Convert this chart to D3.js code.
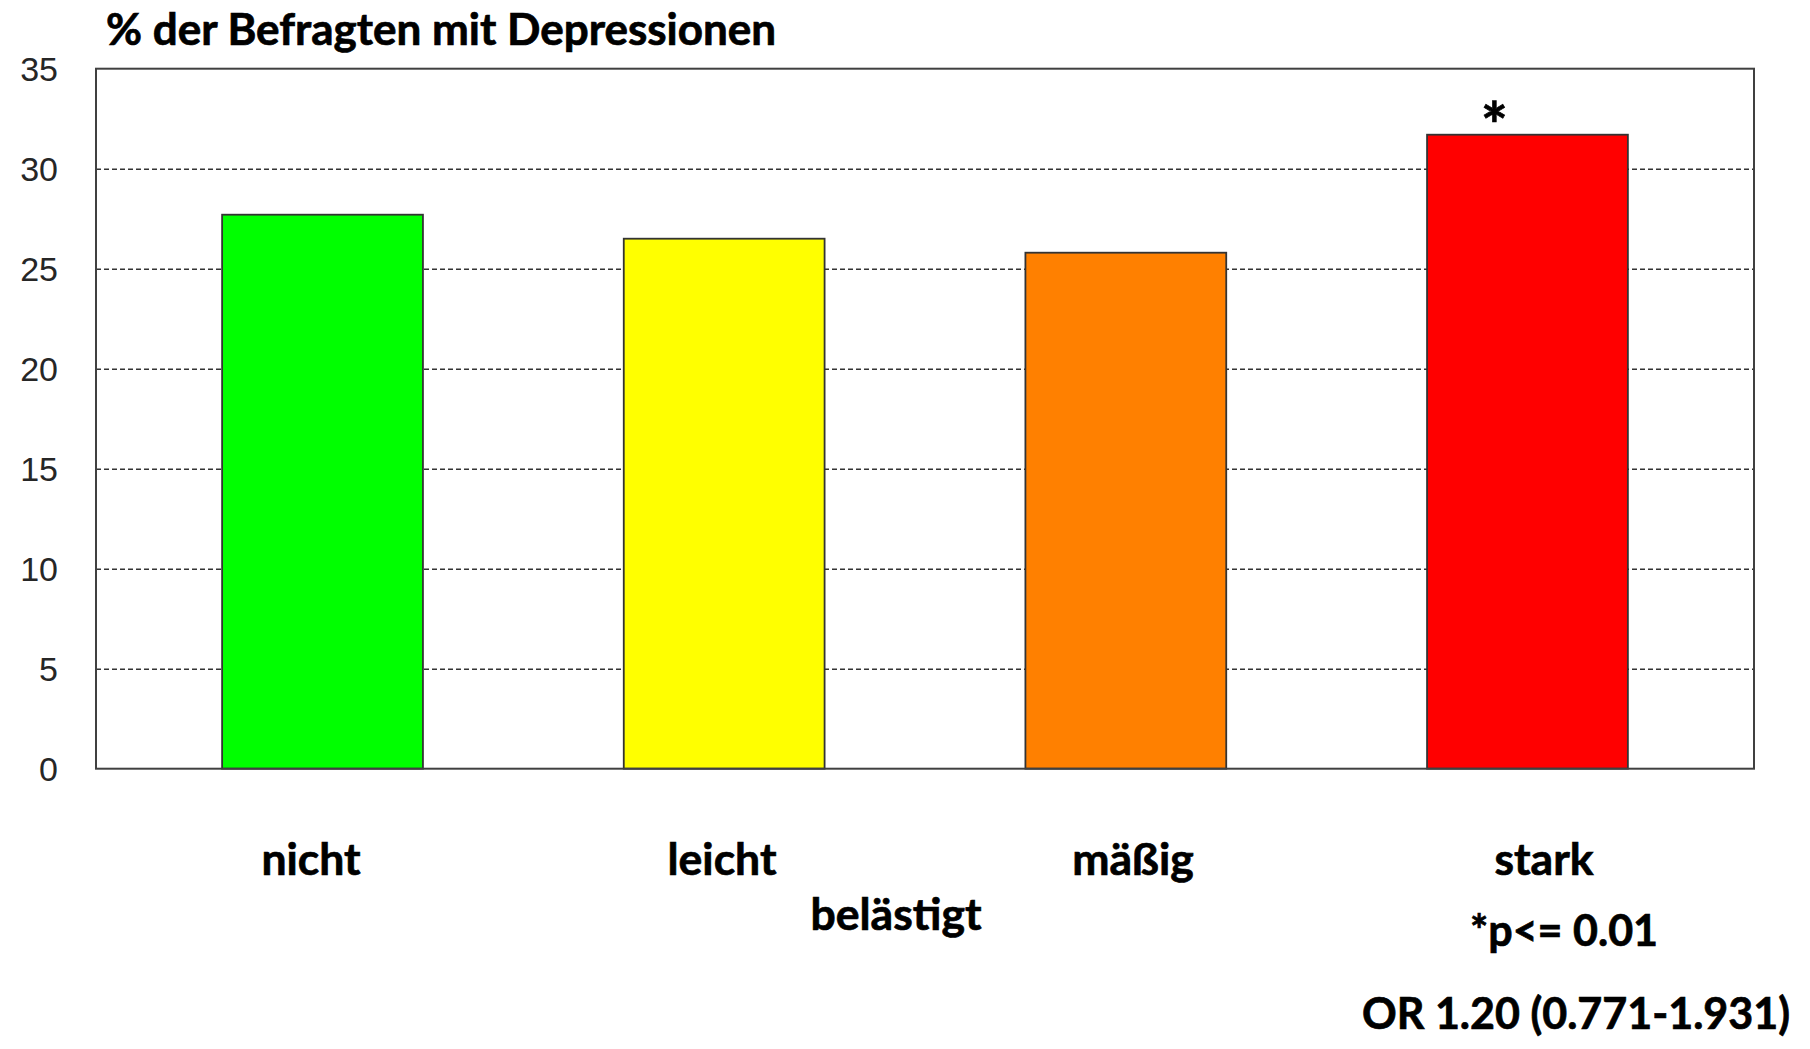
<!DOCTYPE html>
<html>
<head>
<meta charset="utf-8">
<script src="https://cdn.jsdelivr.net/npm/d3@7"></script>
<style>
    body { margin: 0; background: #fff; }
    .lbl { font-family: Lato, "Open Sans", sans-serif; font-weight: bold; fill: #000; stroke: #000; stroke-width: 0.7px; }
    .tick text { font-family: "Liberation Sans", Arial, sans-serif; font-size: 34px; fill: #262626; }
</style>
</head>
<body>
<svg id="chart"></svg>
<script>
const categories = ["nicht", "leicht", "mäßig", "stark"];
const values = [27.7, 26.5, 25.8, 31.7];
const colors = ["#00ff00", "#ffff00", "#ff8000", "#ff0000"];
const yTicks = [0, 5, 10, 15, 20, 25, 30, 35];

const width = 1810;
const height = 1049;
const frame = { left: 96, right: 1754, top: 68.7, bottom: 768.7 };

const svg = d3.select("#chart")
    .attr("width", width)
    .attr("height", height);

const x = d3.scaleBand()
    .domain(categories)
    .range([frame.left, frame.right])
    .paddingInner(0.5)
    .paddingOuter(0.314);

// category captions sit on their own, slightly wider spacing
const xLabel = d3.scalePoint()
    .domain(categories)
    .range([311, 1544]);

const y = d3.scaleLinear()
    .domain([0, 35])
    .range([frame.bottom, frame.top]);

// dashed grid lines
svg.append("g")
    .attr("transform", `translate(${frame.left},0)`)
    .call(d3.axisLeft(y).tickValues(yTicks.slice(1, -1)).tickSize(-(frame.right - frame.left)).tickFormat(""))
    .call(g => g.select(".domain").remove())
    .call(g => g.selectAll("line")
        .attr("stroke", "#333")
        .attr("stroke-width", 1.5)
        .attr("stroke-dasharray", "5,3"));

// y labels
svg.append("g")
    .attr("transform", `translate(${frame.left - 38},0)`)
    .call(d3.axisLeft(y).tickValues(yTicks).tickSize(0).tickPadding(0))
    .call(g => g.select(".domain").remove())
    .call(g => g.selectAll("text").attr("dy", "0.36em"));

svg.selectAll(".bar")
    .data(values)
    .enter()
    .append("rect")
    .attr("class", "bar")
    .attr("x", (d, i) => x(categories[i]))
    .attr("y", d => y(d))
    .attr("width", x.bandwidth())
    .attr("height", d => y(0) - y(d))
    .attr("fill", (d, i) => colors[i])
    .attr("stroke", "#333")
    .attr("stroke-width", 1.8);

// frame
svg.append("rect")
    .attr("x", frame.left)
    .attr("y", frame.top)
    .attr("width", frame.right - frame.left)
    .attr("height", frame.bottom - frame.top)
    .attr("fill", "none")
    .attr("stroke", "#404040")
    .attr("stroke-width", 2);

svg.append("text")
    .attr("class", "lbl")
    .attr("x", 106)
    .attr("y", 45)
    .style("font-size", "44px")
    .text("% der Befragten mit Depressionen");

svg.selectAll(".cat")
    .data(categories)
    .enter()
    .append("text")
    .attr("class", "lbl cat")
    .attr("x", d => xLabel(d))
    .attr("y", 875)
    .attr("text-anchor", "middle")
    .style("font-size", "44.5px")
    .text(d => d);

svg.append("text")
    .attr("class", "lbl")
    .attr("x", 896)
    .attr("y", 930)
    .attr("text-anchor", "middle")
    .style("font-size", "44.5px")
    .text("belästigt");

// significance star on "stark"
svg.append("text")
    .attr("class", "lbl")
    .attr("x", x("stark") + x.bandwidth() / 2 - 33)
    .attr("y", y(values[3]) + 14)
    .attr("text-anchor", "middle")
    .style("font-size", "64px")
    .text("*");

svg.append("text")
    .attr("class", "lbl")
    .attr("x", 1564)
    .attr("y", 946)
    .attr("text-anchor", "middle")
    .style("font-size", "43px")
    .text("*p<= 0.01");

svg.append("text")
    .attr("class", "lbl")
    .attr("x", 1790)
    .attr("y", 1029)
    .attr("text-anchor", "end")
    .style("font-size", "43px")
    .text("OR 1.20 (0.771-1.931)");
</script>
</body>
</html>
